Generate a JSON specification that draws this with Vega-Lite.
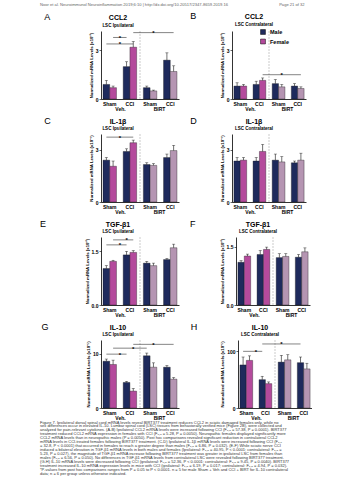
{
  "$schema": "https://vega.github.io/schema/vega-lite/v6.json",
  "padding": {"left": 40, "top": 2, "right": 0, "bottom": 0},
  "background": "white",
  "title": {"text": "Noor et al. Neuroimmunol Neuroinflammation 2019;6:10 | http://dx.doi.org/10.20517/2347-8659.2019.16\u00a0\u00a0\u00a0\u00a0\u00a0\u00a0\u00a0\u00a0\u00a0\u00a0\u00a0\u00a0\u00a0\u00a0\u00a0\u00a0\u00a0\u00a0\u00a0\u00a0\u00a0\u00a0\u00a0\u00a0\u00a0\u00a0\u00a0\u00a0\u00a0\u00a0\u00a0\u00a0\u00a0\u00a0\u00a0\u00a0\u00a0\u00a0\u00a0\u00a0\u00a0\u00a0\u00a0\u00a0\u00a0Page 21 of 32", "anchor": "start", "fontSize": 4.1, "fontWeight": "normal", "color": "#666", "offset": 5},
  "datasets": {
    "bars": [
      {"p":"A","c":"SVm","s":"Male","t":"Veh","v":0.9,"hi":1.15},
      {"p":"A","c":"SVf","s":"Female","t":"Veh","v":0.7,"hi":0.8},
      {"p":"A","c":"CVm","s":"Male","t":"Veh","v":2.0,"hi":2.3},
      {"p":"A","c":"CVf","s":"Female","t":"Veh","v":3.2,"hi":3.55},
      {"p":"A","c":"SBm","s":"Male","t":"BIRT","v":0.7,"hi":0.8},
      {"p":"A","c":"SBf","s":"Female","t":"BIRT","v":0.5,"hi":0.55},
      {"p":"A","c":"CBm","s":"Male","t":"BIRT","v":2.4,"hi":2.85},
      {"p":"A","c":"CBf","s":"Female","t":"BIRT","v":1.7,"hi":2.05},
      {"p":"B","c":"SVm","s":"Male","t":"Veh","v":0.8,"hi":1.0},
      {"p":"B","c":"SVf","s":"Female","t":"Veh","v":0.8,"hi":0.9},
      {"p":"B","c":"CVm","s":"Male","t":"Veh","v":0.9,"hi":1.1},
      {"p":"B","c":"CVf","s":"Female","t":"Veh","v":1.15,"hi":1.3},
      {"p":"B","c":"SBm","s":"Male","t":"BIRT","v":0.95,"hi":1.2},
      {"p":"B","c":"SBf","s":"Female","t":"BIRT","v":0.75,"hi":0.9},
      {"p":"B","c":"CBm","s":"Male","t":"BIRT","v":0.8,"hi":0.95},
      {"p":"B","c":"CBf","s":"Female","t":"BIRT","v":0.65,"hi":0.75},
      {"p":"C","c":"SVm","s":"Male","t":"Veh","v":2.4,"hi":2.55},
      {"p":"C","c":"SVf","s":"Female","t":"Veh","v":2.05,"hi":2.35},
      {"p":"C","c":"CVm","s":"Male","t":"Veh","v":2.9,"hi":3.05},
      {"p":"C","c":"CVf","s":"Female","t":"Veh","v":3.4,"hi":3.55},
      {"p":"C","c":"SBm","s":"Male","t":"BIRT","v":2.15,"hi":2.25},
      {"p":"C","c":"SBf","s":"Female","t":"BIRT","v":2.1,"hi":2.2},
      {"p":"C","c":"CBm","s":"Male","t":"BIRT","v":2.55,"hi":2.75},
      {"p":"C","c":"CBf","s":"Female","t":"BIRT","v":2.95,"hi":3.25},
      {"p":"D","c":"SVm","s":"Male","t":"Veh","v":2.35,"hi":2.55},
      {"p":"D","c":"SVf","s":"Female","t":"Veh","v":2.4,"hi":2.55},
      {"p":"D","c":"CVm","s":"Male","t":"Veh","v":2.35,"hi":2.55},
      {"p":"D","c":"CVf","s":"Female","t":"Veh","v":2.9,"hi":3.3},
      {"p":"D","c":"SBm","s":"Male","t":"BIRT","v":2.4,"hi":2.75},
      {"p":"D","c":"SBf","s":"Female","t":"BIRT","v":2.3,"hi":2.6},
      {"p":"D","c":"CBm","s":"Male","t":"BIRT","v":2.25,"hi":2.35},
      {"p":"D","c":"CBf","s":"Female","t":"BIRT","v":2.4,"hi":2.8},
      {"p":"E","c":"SVm","s":"Male","t":"Veh","v":1.02,"hi":1.1},
      {"p":"E","c":"SVf","s":"Female","t":"Veh","v":1.22,"hi":1.25},
      {"p":"E","c":"CVm","s":"Male","t":"Veh","v":1.4,"hi":1.5},
      {"p":"E","c":"CVf","s":"Female","t":"Veh","v":1.47,"hi":1.52},
      {"p":"E","c":"SBm","s":"Male","t":"BIRT","v":1.17,"hi":1.22},
      {"p":"E","c":"SBf","s":"Female","t":"BIRT","v":1.1,"hi":1.17},
      {"p":"E","c":"CBm","s":"Male","t":"BIRT","v":1.27,"hi":1.3},
      {"p":"E","c":"CBf","s":"Female","t":"BIRT","v":1.6,"hi":1.7},
      {"p":"F","c":"SVm","s":"Male","t":"Veh","v":1.1,"hi":1.14},
      {"p":"F","c":"SVf","s":"Female","t":"Veh","v":1.26,"hi":1.31},
      {"p":"F","c":"CVm","s":"Male","t":"Veh","v":1.3,"hi":1.4},
      {"p":"F","c":"CVf","s":"Female","t":"Veh","v":1.43,"hi":1.49},
      {"p":"F","c":"SBm","s":"Male","t":"BIRT","v":1.22,"hi":1.32},
      {"p":"F","c":"SBf","s":"Female","t":"BIRT","v":1.25,"hi":1.32},
      {"p":"F","c":"CBm","s":"Male","t":"BIRT","v":1.23,"hi":1.3},
      {"p":"F","c":"CBf","s":"Female","t":"BIRT","v":1.37,"hi":1.47},
      {"p":"G","c":"SVm","s":"Male","t":"Veh","v":8.6,"hi":9.0},
      {"p":"G","c":"SVf","s":"Female","t":"Veh","v":8.0,"hi":8.8},
      {"p":"G","c":"CVm","s":"Male","t":"Veh","v":4.7,"hi":4.9},
      {"p":"G","c":"CVf","s":"Female","t":"Veh","v":3.1,"hi":3.6},
      {"p":"G","c":"SBm","s":"Male","t":"BIRT","v":9.6,"hi":10.1},
      {"p":"G","c":"SBf","s":"Female","t":"BIRT","v":7.5,"hi":8.3},
      {"p":"G","c":"CBm","s":"Male","t":"BIRT","v":7.5,"hi":7.8},
      {"p":"G","c":"CBf","s":"Female","t":"BIRT","v":5.3,"hi":5.6},
      {"p":"H","c":"SVm","s":"Male","t":"Veh","v":76,"hi":90},
      {"p":"H","c":"SVf","s":"Female","t":"Veh","v":84,"hi":92},
      {"p":"H","c":"CVm","s":"Male","t":"Veh","v":50,"hi":56},
      {"p":"H","c":"CVf","s":"Female","t":"Veh","v":43,"hi":46},
      {"p":"H","c":"SBm","s":"Male","t":"BIRT","v":81,"hi":93},
      {"p":"H","c":"SBf","s":"Female","t":"BIRT","v":85,"hi":94},
      {"p":"H","c":"CBm","s":"Male","t":"BIRT","v":80,"hi":90},
      {"p":"H","c":"CBf","s":"Female","t":"BIRT","v":69,"hi":79}
    ],
    "sig": [
      {"p":"A","a":"SVm","b":"CVf","y":3.4,"st":"g1"},
      {"p":"A","a":"SVf","b":"CVm","y":3.8,"st":"g1"},
      {"p":"A","a":"CVf","b":"CBf","y":4.1,"st":"SBf"},
      {"p":"B","a":"CVf","b":"CBf","y":1.5,"st":"SBf"},
      {"p":"C","a":"SVm","b":"CVf","y":3.72,"st":"g1"},
      {"p":"E","a":"SVm","b":"CVm","y":1.68,"st":"g1"},
      {"p":"E","a":"SVf","b":"CVf","y":1.82,"st":"CVm"},
      {"p":"G","a":"SVm","b":"CVm","y":9.9,"st":"g1"},
      {"p":"G","a":"SVf","b":"SBm","y":11.0,"st":"CVf"},
      {"p":"G","a":"CVf","b":"CBf","y":11.7,"st":"SBf"},
      {"p":"H","a":"SVm","b":"CVm","y":100,"st":"g1"},
      {"p":"H","a":"CVm","b":"CBm","y":113,"st":"SBm"}
    ],
    "tr": [{"tr": "Veh."}, {"tr": "BIRT"}]
  },
  "vconcat": [
    {
      "title": {"text": [
        "Figure 7. Ipsilateral dorsal spinal cord mRNA levels reveal BIRT377 treatment reduces CCL2 in sciatic damaged females only, while no",
        "sex differences occur in elevated IL-10. Lumbar spinal cord (LSC) tissues from behaviorally verified mice (Figure 2B), were collected and",
        "analyzed for pain-relevant cytokines. (A-B) Ipsilateral CCL2 mRNA levels were increased following CCI (F₁,₈ = 57.38, P = 0.0001). BIRT377",
        "treatment reduced CCL2 mRNA expression in females with CCI (F₁,₈ = 5.28, P = 0.0050). Neuropathic females displayed significantly more",
        "CCL2 mRNA levels than in neuropathic males (P = 0.0050). Post hoc comparisons revealed significant reduction in contralateral CCL2",
        "mRNA levels in CCI-treated females following BIRT377 treatment. (C-D) Ipsilateral IL-1β mRNA levels were increased following CCI (F₁,₇",
        "= 32.8, P < 0.0001) that occurred in females to reach a greater degree than males (F₁,₈ = 6.86, P = 0.032). (E-F) While sciatic nerve CCI",
        "induced a bilateral elevation in TGF-β1 mRNA levels in both males and females (Ipsilateral: F₁,₈ = 40.95, P < 0.0001; contralateral: F₁,₈ =",
        "5.23, P = 0.027), the magnitude of TGF-β1 mRNA increase following BIRT377 treatment was greater in ipsilateral LSC from females than",
        "males (F₁,₈ = 6.56, P = 0.050). No differences in TGF-β1 mRNA levels from contralateral LSC were revealed following BIRT377 treatment.",
        "(G-H) IL-10 mRNA levels were decreased following CCI (ipsilateral: F₁,₈ = 52.36, P < 0.0001; contralateral: F₁,₈ = 9.45, P = 0.0040). BIRT377",
        "treatment increased IL-10 mRNA expression levels in mice with CCI (ipsilateral: F₁,₈ = 6.19, P = 0.017; contralateral: F₁,₈ = 4.94, P = 0.032).",
        "*P-values from post hoc comparisons ranges from P = 0.05 to P < 0.0001. n = 5 for male Sham + Veh and CCI + BIRT for IL-10 contralateral",
        "data; n = 6 per group unless otherwise indicated."
      ], "orient": "bottom", "anchor": "start", "fontSize": 4.0, "fontWeight": "normal", "lineHeight": 3.95, "offset": 0, "color": "#333"},
      "spacing": 4,
      "vconcat": [
        {
          "spacing": 11,
          "resolve": {"scale": {"color": "independent"}, "legend": {"color": "independent"}},
          "hconcat": [
            {
              "title": {"text": "A", "anchor": "start", "offset": -8, "fontSize": 9, "fontWeight": "normal", "dx": -45},
              "vconcat": [{
                "width": 78, "height": 68,
                "title": {"text": "CCL2", "subtitle": "LSC Ipsilateral", "dx": -22},
                "resolve": {"scale": {"x": "independent"}, "axis": {"x": "independent"}},
                "layer": [
                  {"layer": [
                    {"data": {"name": "bars"}, "transform": [{"filter": "datum.p == 'A'"}], "layer": [
                      {"mark": {"type": "bar", "stroke": "#111", "strokeWidth": 0.35}, "encoding": {
                        "x": {"field": "c", "type": "nominal", "scale": {"domain": ["SVm","SVf","g1","CVm","CVf","g2","SBm","SBf","g3","CBm","CBf"], "paddingInner": 0, "paddingOuter": 0.3}, "axis": {"orient": "bottom", "values": ["SVm","CVm","SBm","CBm"], "labelExpr": "(datum.value == 'SVm' || datum.value == 'SBm') ? 'Sham' : 'CCI'", "labelOffset": 3.36, "ticks": false, "title": null, "labelAngle": 0, "labelPadding": 2}},
                        "y": {"field": "v", "type": "quantitative", "scale": {"domain": [0, 4.2], "nice": false}, "axis": {"values": [0,1,2,3], "title": "Normalized mRNA Levels (x10⁻³)"}},
                        "color": {"field": "s", "type": "nominal", "scale": {"domain": ["Male","Female"], "range": ["#1e2a5c","#b44a9c"]}, "legend": null, "condition": {"test": "datum.t == 'BIRT' && datum.s == 'Female'", "value": "#b595b2"}}
                      }},
                      {"mark": {"type": "rule", "strokeWidth": 0.6, "color": "#111"}, "encoding": {"x": {"field": "c", "type": "nominal"}, "y": {"field": "v", "type": "quantitative"}, "y2": {"field": "hi"}}},
                      {"mark": {"type": "tick", "size": 3, "thickness": 0.6, "color": "#111"}, "encoding": {"x": {"field": "c", "type": "nominal"}, "y": {"field": "hi", "type": "quantitative"}}}
                    ]},
                    {"data": {"values": [{"c": "g2"}]}, "mark": {"type": "rule", "color": "#aaa", "strokeWidth": 0.6, "strokeDash": [2, 1]}, "encoding": {"x": {"field": "c", "type": "nominal"}}},
                    {"data": {"name": "sig"}, "transform": [{"filter": "datum.p == 'A'"}], "layer": [
                      {"mark": {"type": "rule", "strokeWidth": 0.6, "color": "#333"}, "encoding": {"x": {"field": "a", "type": "nominal"}, "x2": {"field": "b"}, "y": {"field": "y", "type": "quantitative"}}},
                      {"mark": {"type": "text", "text": "*", "fontSize": 6, "baseline": "alphabetic", "dy": 2.5, "fontWeight": "bold"}, "encoding": {"x": {"field": "st", "type": "nominal"}, "y": {"field": "y", "type": "quantitative"}}}
                    ]}
                  ]},
                  {"data": {"name": "tr"}, "mark": {"type": "rule", "opacity": 0}, "encoding": {"x": {"field": "tr", "type": "nominal", "scale": {"domain": ["Veh.","BIRT"], "paddingInner": 0, "paddingOuter": 0}, "axis": {"orient": "bottom", "domain": false, "ticks": false, "title": null, "labelAngle": 0, "labelPadding": 7.5}}}}
                ]
              }]
            },
            {
              "title": {"text": "B", "anchor": "start", "offset": -8, "fontSize": 9, "fontWeight": "normal", "dx": -30},
              "resolve": {"scale": {"color": "independent"}, "legend": {"color": "independent"}},
              "vconcat": [{
                "width": 74, "height": 68,
                "title": {"text": "CCL2", "subtitle": "LSC Contralateral", "dx": -15},
                "resolve": {"scale": {"x": "independent"}, "axis": {"x": "independent"}},
                "layer": [
                  {"layer": [
                    {"data": {"name": "bars"}, "transform": [{"filter": "datum.p == 'B'"}], "layer": [
                      {"mark": {"type": "bar", "stroke": "#111", "strokeWidth": 0.35}, "encoding": {
                        "x": {"field": "c", "type": "nominal", "scale": {"domain": ["SVm","SVf","g1","CVm","CVf","g2","SBm","SBf","g3","CBm","CBf"], "paddingInner": 0, "paddingOuter": 0.3}, "axis": {"orient": "bottom", "values": ["SVm","CVm","SBm","CBm"], "labelExpr": "(datum.value == 'SVm' || datum.value == 'SBm') ? 'Sham' : 'CCI'", "labelOffset": 3.19, "ticks": false, "title": null, "labelAngle": 0, "labelPadding": 2}},
                        "y": {"field": "v", "type": "quantitative", "scale": {"domain": [0, 4.2], "nice": false}, "axis": {"values": [0,1,2,3], "title": "Normalized mRNA Levels (x10⁻³)"}},
                        "color": {"field": "s", "type": "nominal", "scale": {"domain": ["Male","Female"], "range": ["#1e2a5c","#b44a9c"]}, "legend": {"title": null, "orient": "none", "legendX": 28, "legendY": -2, "symbolType": "square", "symbolSize": 24, "symbolStrokeColor": "#000", "symbolStrokeWidth": 0.5, "labelFontSize": 5.5, "labelFontWeight": "bold", "labelColor": "#000", "rowPadding": 1.5, "padding": 0}, "condition": {"test": "datum.t == 'BIRT' && datum.s == 'Female'", "value": "#b595b2"}}
                      }},
                      {"mark": {"type": "rule", "strokeWidth": 0.6, "color": "#111"}, "encoding": {"x": {"field": "c", "type": "nominal"}, "y": {"field": "v", "type": "quantitative"}, "y2": {"field": "hi"}}},
                      {"mark": {"type": "tick", "size": 3, "thickness": 0.6, "color": "#111"}, "encoding": {"x": {"field": "c", "type": "nominal"}, "y": {"field": "hi", "type": "quantitative"}}}
                    ]},
                    {"data": {"values": [{"c": "g2"}]}, "mark": {"type": "rule", "color": "#aaa", "strokeWidth": 0.6, "strokeDash": [2, 1]}, "encoding": {"x": {"field": "c", "type": "nominal"}}},
                    {"data": {"name": "sig"}, "transform": [{"filter": "datum.p == 'B'"}], "layer": [
                      {"mark": {"type": "rule", "strokeWidth": 0.6, "color": "#333"}, "encoding": {"x": {"field": "a", "type": "nominal"}, "x2": {"field": "b"}, "y": {"field": "y", "type": "quantitative"}}},
                      {"mark": {"type": "text", "text": "*", "fontSize": 6, "baseline": "alphabetic", "dy": 2.5, "fontWeight": "bold"}, "encoding": {"x": {"field": "st", "type": "nominal"}, "y": {"field": "y", "type": "quantitative"}}}
                    ]}
                  ]},
                  {"data": {"name": "tr"}, "mark": {"type": "rule", "opacity": 0}, "encoding": {"x": {"field": "tr", "type": "nominal", "scale": {"domain": ["Veh.","BIRT"], "paddingInner": 0, "paddingOuter": 0}, "axis": {"orient": "bottom", "domain": false, "ticks": false, "title": null, "labelAngle": 0, "labelPadding": 7.5}}}}
                ]
              }]
            }
          ]
        },
        {
          "spacing": 11,
          "resolve": {"scale": {"color": "independent"}, "legend": {"color": "independent"}},
          "hconcat": [
            {
              "title": {"text": "C", "anchor": "start", "offset": -8, "fontSize": 9, "fontWeight": "normal", "dx": -45},
              "vconcat": [{
                "width": 78, "height": 68,
                "title": {"text": "IL-1β", "subtitle": "LSC Ipsilateral", "dx": -22},
                "resolve": {"scale": {"x": "independent"}, "axis": {"x": "independent"}},
                "layer": [
                  {"layer": [
                    {"data": {"name": "bars"}, "transform": [{"filter": "datum.p == 'C'"}], "layer": [
                      {"mark": {"type": "bar", "stroke": "#111", "strokeWidth": 0.35}, "encoding": {
                        "x": {"field": "c", "type": "nominal", "scale": {"domain": ["SVm","SVf","g1","CVm","CVf","g2","SBm","SBf","g3","CBm","CBf"], "paddingInner": 0, "paddingOuter": 0.3}, "axis": {"orient": "bottom", "values": ["SVm","CVm","SBm","CBm"], "labelExpr": "(datum.value == 'SVm' || datum.value == 'SBm') ? 'Sham' : 'CCI'", "labelOffset": 3.36, "ticks": false, "title": null, "labelAngle": 0, "labelPadding": 2}},
                        "y": {"field": "v", "type": "quantitative", "scale": {"domain": [0, 3.9], "nice": false}, "axis": {"values": [0,1,2,3], "title": "Normalized mRNA Levels (x10⁻⁴)"}},
                        "color": {"field": "s", "type": "nominal", "scale": {"domain": ["Male","Female"], "range": ["#1e2a5c","#b44a9c"]}, "legend": null, "condition": {"test": "datum.t == 'BIRT' && datum.s == 'Female'", "value": "#b595b2"}}
                      }},
                      {"mark": {"type": "rule", "strokeWidth": 0.6, "color": "#111"}, "encoding": {"x": {"field": "c", "type": "nominal"}, "y": {"field": "v", "type": "quantitative"}, "y2": {"field": "hi"}}},
                      {"mark": {"type": "tick", "size": 3, "thickness": 0.6, "color": "#111"}, "encoding": {"x": {"field": "c", "type": "nominal"}, "y": {"field": "hi", "type": "quantitative"}}}
                    ]},
                    {"data": {"values": [{"c": "g2"}]}, "mark": {"type": "rule", "color": "#aaa", "strokeWidth": 0.6, "strokeDash": [2, 1]}, "encoding": {"x": {"field": "c", "type": "nominal"}}},
                    {"data": {"name": "sig"}, "transform": [{"filter": "datum.p == 'C'"}], "layer": [
                      {"mark": {"type": "rule", "strokeWidth": 0.6, "color": "#333"}, "encoding": {"x": {"field": "a", "type": "nominal"}, "x2": {"field": "b"}, "y": {"field": "y", "type": "quantitative"}}},
                      {"mark": {"type": "text", "text": "*", "fontSize": 6, "baseline": "alphabetic", "dy": 2.5, "fontWeight": "bold"}, "encoding": {"x": {"field": "st", "type": "nominal"}, "y": {"field": "y", "type": "quantitative"}}}
                    ]}
                  ]},
                  {"data": {"name": "tr"}, "mark": {"type": "rule", "opacity": 0}, "encoding": {"x": {"field": "tr", "type": "nominal", "scale": {"domain": ["Veh.","BIRT"], "paddingInner": 0, "paddingOuter": 0}, "axis": {"orient": "bottom", "domain": false, "ticks": false, "title": null, "labelAngle": 0, "labelPadding": 7.5}}}}
                ]
              }]
            },
            {
              "title": {"text": "D", "anchor": "start", "offset": -8, "fontSize": 9, "fontWeight": "normal", "dx": -30},
              "vconcat": [{
                "width": 74, "height": 68,
                "title": {"text": "IL-1β", "subtitle": "LSC Contralateral", "dx": -15},
                "resolve": {"scale": {"x": "independent"}, "axis": {"x": "independent"}},
                "layer": [
                  {"layer": [
                    {"data": {"name": "bars"}, "transform": [{"filter": "datum.p == 'D'"}], "layer": [
                      {"mark": {"type": "bar", "stroke": "#111", "strokeWidth": 0.35}, "encoding": {
                        "x": {"field": "c", "type": "nominal", "scale": {"domain": ["SVm","SVf","g1","CVm","CVf","g2","SBm","SBf","g3","CBm","CBf"], "paddingInner": 0, "paddingOuter": 0.3}, "axis": {"orient": "bottom", "values": ["SVm","CVm","SBm","CBm"], "labelExpr": "(datum.value == 'SVm' || datum.value == 'SBm') ? 'Sham' : 'CCI'", "labelOffset": 3.19, "ticks": false, "title": null, "labelAngle": 0, "labelPadding": 2}},
                        "y": {"field": "v", "type": "quantitative", "scale": {"domain": [0, 3.9], "nice": false}, "axis": {"values": [0,1,2,3], "title": "Normalized mRNA Levels (x10⁻⁴)"}},
                        "color": {"field": "s", "type": "nominal", "scale": {"domain": ["Male","Female"], "range": ["#1e2a5c","#b44a9c"]}, "legend": null, "condition": {"test": "datum.t == 'BIRT' && datum.s == 'Female'", "value": "#b595b2"}}
                      }},
                      {"mark": {"type": "rule", "strokeWidth": 0.6, "color": "#111"}, "encoding": {"x": {"field": "c", "type": "nominal"}, "y": {"field": "v", "type": "quantitative"}, "y2": {"field": "hi"}}},
                      {"mark": {"type": "tick", "size": 3, "thickness": 0.6, "color": "#111"}, "encoding": {"x": {"field": "c", "type": "nominal"}, "y": {"field": "hi", "type": "quantitative"}}}
                    ]},
                    {"data": {"values": [{"c": "g2"}]}, "mark": {"type": "rule", "color": "#aaa", "strokeWidth": 0.6, "strokeDash": [2, 1]}, "encoding": {"x": {"field": "c", "type": "nominal"}}}
                  ]},
                  {"data": {"name": "tr"}, "mark": {"type": "rule", "opacity": 0}, "encoding": {"x": {"field": "tr", "type": "nominal", "scale": {"domain": ["Veh.","BIRT"], "paddingInner": 0, "paddingOuter": 0}, "axis": {"orient": "bottom", "domain": false, "ticks": false, "title": null, "labelAngle": 0, "labelPadding": 7.5}}}}
                ]
              }]
            }
          ]
        },
        {
          "spacing": 11,
          "resolve": {"scale": {"color": "independent"}, "legend": {"color": "independent"}},
          "hconcat": [
            {
              "title": {"text": "E", "anchor": "start", "offset": -8, "fontSize": 9, "fontWeight": "normal", "dx": -45},
              "vconcat": [{
                "width": 78, "height": 68,
                "title": {"text": "TGF-β1", "subtitle": "LSC Ipsilateral", "dx": -22},
                "resolve": {"scale": {"x": "independent"}, "axis": {"x": "independent"}},
                "layer": [
                  {"layer": [
                    {"data": {"name": "bars"}, "transform": [{"filter": "datum.p == 'E'"}], "layer": [
                      {"mark": {"type": "bar", "stroke": "#111", "strokeWidth": 0.35}, "encoding": {
                        "x": {"field": "c", "type": "nominal", "scale": {"domain": ["SVm","SVf","g1","CVm","CVf","g2","SBm","SBf","g3","CBm","CBf"], "paddingInner": 0, "paddingOuter": 0.3}, "axis": {"orient": "bottom", "values": ["SVm","CVm","SBm","CBm"], "labelExpr": "(datum.value == 'SVm' || datum.value == 'SBm') ? 'Sham' : 'CCI'", "labelOffset": 3.36, "ticks": false, "title": null, "labelAngle": 0, "labelPadding": 2}},
                        "y": {"field": "v", "type": "quantitative", "scale": {"domain": [0, 1.9], "nice": false}, "axis": {"values": [0,0.5,1,1.5], "format": ".1f", "title": "Normalized mRNA Levels (x10⁻²)"}},
                        "color": {"field": "s", "type": "nominal", "scale": {"domain": ["Male","Female"], "range": ["#1e2a5c","#b44a9c"]}, "legend": null, "condition": {"test": "datum.t == 'BIRT' && datum.s == 'Female'", "value": "#b595b2"}}
                      }},
                      {"mark": {"type": "rule", "strokeWidth": 0.6, "color": "#111"}, "encoding": {"x": {"field": "c", "type": "nominal"}, "y": {"field": "v", "type": "quantitative"}, "y2": {"field": "hi"}}},
                      {"mark": {"type": "tick", "size": 3, "thickness": 0.6, "color": "#111"}, "encoding": {"x": {"field": "c", "type": "nominal"}, "y": {"field": "hi", "type": "quantitative"}}}
                    ]},
                    {"data": {"values": [{"c": "g2"}]}, "mark": {"type": "rule", "color": "#aaa", "strokeWidth": 0.6, "strokeDash": [2, 1]}, "encoding": {"x": {"field": "c", "type": "nominal"}}},
                    {"data": {"name": "sig"}, "transform": [{"filter": "datum.p == 'E'"}], "layer": [
                      {"mark": {"type": "rule", "strokeWidth": 0.6, "color": "#333"}, "encoding": {"x": {"field": "a", "type": "nominal"}, "x2": {"field": "b"}, "y": {"field": "y", "type": "quantitative"}}},
                      {"mark": {"type": "text", "text": "*", "fontSize": 6, "baseline": "alphabetic", "dy": 2.5, "fontWeight": "bold"}, "encoding": {"x": {"field": "st", "type": "nominal"}, "y": {"field": "y", "type": "quantitative"}}}
                    ]}
                  ]},
                  {"data": {"name": "tr"}, "mark": {"type": "rule", "opacity": 0}, "encoding": {"x": {"field": "tr", "type": "nominal", "scale": {"domain": ["Veh.","BIRT"], "paddingInner": 0, "paddingOuter": 0}, "axis": {"orient": "bottom", "domain": false, "ticks": false, "title": null, "labelAngle": 0, "labelPadding": 7.5}}}}
                ]
              }]
            },
            {
              "title": {"text": "F", "anchor": "start", "offset": -8, "fontSize": 9, "fontWeight": "normal", "dx": -30},
              "vconcat": [{
                "width": 74, "height": 68,
                "title": {"text": "TGF-β1", "subtitle": "LSC Contralateral", "dx": -15},
                "resolve": {"scale": {"x": "independent"}, "axis": {"x": "independent"}},
                "layer": [
                  {"layer": [
                    {"data": {"name": "bars"}, "transform": [{"filter": "datum.p == 'F'"}], "layer": [
                      {"mark": {"type": "bar", "stroke": "#111", "strokeWidth": 0.35}, "encoding": {
                        "x": {"field": "c", "type": "nominal", "scale": {"domain": ["SVm","SVf","g1","CVm","CVf","g2","SBm","SBf","g3","CBm","CBf"], "paddingInner": 0, "paddingOuter": 0.3}, "axis": {"orient": "bottom", "values": ["SVm","CVm","SBm","CBm"], "labelExpr": "(datum.value == 'SVm' || datum.value == 'SBm') ? 'Sham' : 'CCI'", "labelOffset": 3.19, "ticks": false, "title": null, "labelAngle": 0, "labelPadding": 2}},
                        "y": {"field": "v", "type": "quantitative", "scale": {"domain": [0, 1.75], "nice": false}, "axis": {"values": [0,0.5,1,1.5], "format": ".1f", "title": "Normalized mRNA Levels (x10⁻²)"}},
                        "color": {"field": "s", "type": "nominal", "scale": {"domain": ["Male","Female"], "range": ["#1e2a5c","#b44a9c"]}, "legend": null, "condition": {"test": "datum.t == 'BIRT' && datum.s == 'Female'", "value": "#b595b2"}}
                      }},
                      {"mark": {"type": "rule", "strokeWidth": 0.6, "color": "#111"}, "encoding": {"x": {"field": "c", "type": "nominal"}, "y": {"field": "v", "type": "quantitative"}, "y2": {"field": "hi"}}},
                      {"mark": {"type": "tick", "size": 3, "thickness": 0.6, "color": "#111"}, "encoding": {"x": {"field": "c", "type": "nominal"}, "y": {"field": "hi", "type": "quantitative"}}}
                    ]},
                    {"data": {"values": [{"c": "g2"}]}, "mark": {"type": "rule", "color": "#aaa", "strokeWidth": 0.6, "strokeDash": [2, 1]}, "encoding": {"x": {"field": "c", "type": "nominal"}}}
                  ]},
                  {"data": {"name": "tr"}, "mark": {"type": "rule", "opacity": 0}, "encoding": {"x": {"field": "tr", "type": "nominal", "scale": {"domain": ["Veh.","BIRT"], "paddingInner": 0, "paddingOuter": 0}, "axis": {"orient": "bottom", "domain": false, "ticks": false, "title": null, "labelAngle": 0, "labelPadding": 7.5}}}}
                ]
              }]
            }
          ]
        },
        {
          "spacing": 11,
          "resolve": {"scale": {"color": "independent"}, "legend": {"color": "independent"}},
          "hconcat": [
            {
              "title": {"text": "G", "anchor": "start", "offset": -8, "fontSize": 9, "fontWeight": "normal", "dx": -45},
              "vconcat": [{
                "width": 78, "height": 68,
                "title": {"text": "IL-10", "subtitle": "LSC Ipsilateral", "dx": -22},
                "resolve": {"scale": {"x": "independent"}, "axis": {"x": "independent"}},
                "layer": [
                  {"layer": [
                    {"data": {"name": "bars"}, "transform": [{"filter": "datum.p == 'G'"}], "layer": [
                      {"mark": {"type": "bar", "stroke": "#111", "strokeWidth": 0.35}, "encoding": {
                        "x": {"field": "c", "type": "nominal", "scale": {"domain": ["SVm","SVf","g1","CVm","CVf","g2","SBm","SBf","g3","CBm","CBf"], "paddingInner": 0, "paddingOuter": 0.3}, "axis": {"orient": "bottom", "values": ["SVm","CVm","SBm","CBm"], "labelExpr": "(datum.value == 'SVm' || datum.value == 'SBm') ? 'Sham' : 'CCI'", "labelOffset": 3.36, "ticks": false, "title": null, "labelAngle": 0, "labelPadding": 2}},
                        "y": {"field": "v", "type": "quantitative", "scale": {"domain": [0, 12.5], "nice": false}, "axis": {"values": [0,2,4,6,8,10], "title": "Normalized mRNA Levels (x10⁻⁵)"}},
                        "color": {"field": "s", "type": "nominal", "scale": {"domain": ["Male","Female"], "range": ["#1e2a5c","#b44a9c"]}, "legend": null, "condition": {"test": "datum.t == 'BIRT' && datum.s == 'Female'", "value": "#b595b2"}}
                      }},
                      {"mark": {"type": "rule", "strokeWidth": 0.6, "color": "#111"}, "encoding": {"x": {"field": "c", "type": "nominal"}, "y": {"field": "v", "type": "quantitative"}, "y2": {"field": "hi"}}},
                      {"mark": {"type": "tick", "size": 3, "thickness": 0.6, "color": "#111"}, "encoding": {"x": {"field": "c", "type": "nominal"}, "y": {"field": "hi", "type": "quantitative"}}}
                    ]},
                    {"data": {"values": [{"c": "g2"}]}, "mark": {"type": "rule", "color": "#aaa", "strokeWidth": 0.6, "strokeDash": [2, 1]}, "encoding": {"x": {"field": "c", "type": "nominal"}}},
                    {"data": {"name": "sig"}, "transform": [{"filter": "datum.p == 'G'"}], "layer": [
                      {"mark": {"type": "rule", "strokeWidth": 0.6, "color": "#333"}, "encoding": {"x": {"field": "a", "type": "nominal"}, "x2": {"field": "b"}, "y": {"field": "y", "type": "quantitative"}}},
                      {"mark": {"type": "text", "text": "*", "fontSize": 6, "baseline": "alphabetic", "dy": 2.5, "fontWeight": "bold"}, "encoding": {"x": {"field": "st", "type": "nominal"}, "y": {"field": "y", "type": "quantitative"}}}
                    ]}
                  ]},
                  {"data": {"name": "tr"}, "mark": {"type": "rule", "opacity": 0}, "encoding": {"x": {"field": "tr", "type": "nominal", "scale": {"domain": ["Veh.","BIRT"], "paddingInner": 0, "paddingOuter": 0}, "axis": {"orient": "bottom", "domain": false, "ticks": false, "title": null, "labelAngle": 0, "labelPadding": 7.5}}}}
                ]
              }]
            },
            {
              "title": {"text": "H", "anchor": "start", "offset": -8, "fontSize": 9, "fontWeight": "normal", "dx": -30},
              "vconcat": [{
                "width": 74, "height": 68,
                "title": {"text": "IL-10", "subtitle": "LSC Contralateral", "dx": -15},
                "resolve": {"scale": {"x": "independent"}, "axis": {"x": "independent"}},
                "layer": [
                  {"layer": [
                    {"data": {"name": "bars"}, "transform": [{"filter": "datum.p == 'H'"}], "layer": [
                      {"mark": {"type": "bar", "stroke": "#111", "strokeWidth": 0.35}, "encoding": {
                        "x": {"field": "c", "type": "nominal", "scale": {"domain": ["SVm","SVf","g1","CVm","CVf","g2","SBm","SBf","g3","CBm","CBf"], "paddingInner": 0, "paddingOuter": 0.3}, "axis": {"orient": "bottom", "values": ["SVm","CVm","SBm","CBm"], "labelExpr": "(datum.value == 'SVm' || datum.value == 'SBm') ? 'Sham' : 'CCI'", "labelOffset": 3.19, "ticks": false, "title": null, "labelAngle": 0, "labelPadding": 2}},
                        "y": {"field": "v", "type": "quantitative", "scale": {"domain": [0, 120], "nice": false}, "axis": {"values": [0,20,40,60,80,100], "title": "Normalized mRNA Levels (x10⁻⁵)"}},
                        "color": {"field": "s", "type": "nominal", "scale": {"domain": ["Male","Female"], "range": ["#1e2a5c","#b44a9c"]}, "legend": null, "condition": {"test": "datum.t == 'BIRT' && datum.s == 'Female'", "value": "#b595b2"}}
                      }},
                      {"mark": {"type": "rule", "strokeWidth": 0.6, "color": "#111"}, "encoding": {"x": {"field": "c", "type": "nominal"}, "y": {"field": "v", "type": "quantitative"}, "y2": {"field": "hi"}}},
                      {"mark": {"type": "tick", "size": 3, "thickness": 0.6, "color": "#111"}, "encoding": {"x": {"field": "c", "type": "nominal"}, "y": {"field": "hi", "type": "quantitative"}}}
                    ]},
                    {"data": {"values": [{"c": "g2"}]}, "mark": {"type": "rule", "color": "#aaa", "strokeWidth": 0.6, "strokeDash": [2, 1]}, "encoding": {"x": {"field": "c", "type": "nominal"}}},
                    {"data": {"name": "sig"}, "transform": [{"filter": "datum.p == 'H'"}], "layer": [
                      {"mark": {"type": "rule", "strokeWidth": 0.6, "color": "#333"}, "encoding": {"x": {"field": "a", "type": "nominal"}, "x2": {"field": "b"}, "y": {"field": "y", "type": "quantitative"}}},
                      {"mark": {"type": "text", "text": "*", "fontSize": 6, "baseline": "alphabetic", "dy": 2.5, "fontWeight": "bold"}, "encoding": {"x": {"field": "st", "type": "nominal"}, "y": {"field": "y", "type": "quantitative"}}}
                    ]}
                  ]},
                  {"data": {"name": "tr"}, "mark": {"type": "rule", "opacity": 0}, "encoding": {"x": {"field": "tr", "type": "nominal", "scale": {"domain": ["Veh.","BIRT"], "paddingInner": 0, "paddingOuter": 0}, "axis": {"orient": "bottom", "domain": false, "ticks": false, "title": null, "labelAngle": 0, "labelPadding": 7.5}}}}
                ]
              }]
            }
          ]
        }
      ]
    }
  ],
  "config": {
    "font": "Liberation Sans",
    "view": {"stroke": null},
    "axis": {"labelFontSize": 5, "labelFontWeight": "bold", "labelColor": "#000", "titleFontSize": 4.3, "titleFontWeight": "bold", "titleColor": "#000", "domainColor": "#000", "domainWidth": 0.8, "tickColor": "#000", "tickWidth": 0.6, "tickSize": 2, "labelPadding": 1, "titlePadding": 2, "grid": false},
    "title": {"font": "Liberation Sans", "fontSize": 7, "fontWeight": "bold", "color": "#000", "subtitleFont": "Liberation Sans", "subtitleFontSize": 4.5, "subtitleFontWeight": "bold", "subtitleColor": "#000", "offset": 3, "subtitlePadding": 1.5}
  }
}
